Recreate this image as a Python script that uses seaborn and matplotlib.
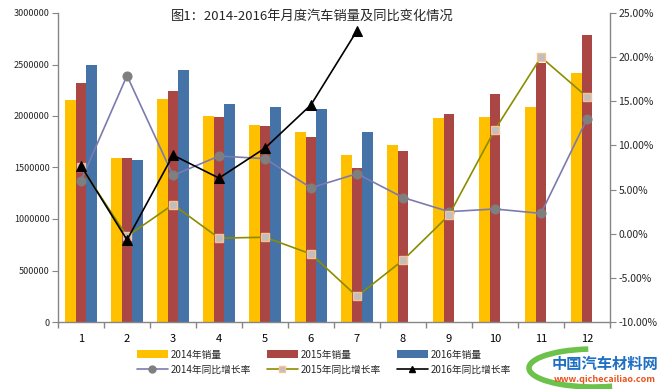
import matplotlib
matplotlib.use("Agg")
import numpy as np
import pandas as pd
import matplotlib.pyplot as plt
import seaborn as sns
from matplotlib.patches import Patch, Arc
from matplotlib.lines import Line2D
from matplotlib.ticker import FuncFormatter

# ---- data ----
months = ["1", "2", "3", "4", "5", "6", "7", "8", "9", "10", "11", "12"]
sales_2014 = [2160000, 1593000, 2169000, 2003000, 1915000, 1847000,
              1622000, 1720000, 1984000, 1993000, 2091000, 2414000]
sales_2015 = [2316000, 1593000, 2238000, 1993000, 1906000, 1798000,
              1495000, 1661000, 2023000, 2218000, 2511000, 2785000]
sales_2016 = [2500000, 1573000, 2443000, 2121000, 2091000, 2072000, 1847000]
growth_2014 = [6.0, 17.9, 6.6, 8.8, 8.5, 5.2, 6.8, 4.1, 2.5, 2.8, 2.3, 13.0]
growth_2015 = [7.6, -0.3, 3.3, -0.5, -0.4, -2.3, -7.1, -3.0, 2.1, 11.8, 20.0, 15.5]
growth_2016 = [7.7, -0.7, 8.9, 6.3, 9.7, 14.6, 23.0]

bar_names = ["2014年销量", "2015年销量", "2016年销量"]
line_names = ["2014年同比增长率", "2015年同比增长率", "2016年同比增长率"]
bar_colors = ["#FFC000", "#AA4643", "#4572A7"]
title = "图1：2014-2016年月度汽车销量及同比变化情况"

# long table for seaborn
rows = []
for name, vals in zip(bar_names, [sales_2014, sales_2015, sales_2016]):
    for m, v in zip(months, vals):
        rows.append({"月": m, "销量": v, "系列": name})
df = pd.DataFrame(rows)

sns.set_style("ticks")
plt.rcParams["font.family"] = ["Noto Sans CJK SC", "DejaVu Sans"]
plt.rcParams["axes.unicode_minus"] = False

fig = plt.figure(figsize=(6.69, 3.89), dpi=100)
ax = fig.add_axes([58 / 669, 1 - 322 / 389, (610 - 58) / 669, (322 - 13) / 389])

sns.barplot(data=df, x="月", y="销量", hue="系列", order=months, hue_order=bar_names,
            palette=bar_colors, width=0.68, saturation=1, legend=False, ax=ax,
            linewidth=0, edgecolor="none")

ax2 = ax.twinx()
x14 = np.arange(len(growth_2014))
x15 = np.arange(len(growth_2015))
x16 = np.arange(len(growth_2016))
sns.lineplot(x=x14, y=growth_2014, ax=ax2, color="#7B7BB0", linewidth=1.2,
             marker="o", markersize=6.5, markerfacecolor="#7F7F7F", markeredgecolor="#7F7F7F")
sns.lineplot(x=x15, y=growth_2015, ax=ax2, color="#8C8C00", linewidth=1.2,
             marker="s", markersize=5.5, markerfacecolor="#BFBFBF", markeredgecolor="#FAC090",
             markeredgewidth=1)
sns.lineplot(x=x16, y=growth_2016, ax=ax2, color="black", linewidth=1.2,
             marker="^", markersize=6.5, markerfacecolor="black", markeredgecolor="black")

# axes styling
gray = "#868686"
ax.set_xlim(-0.5, 11.5)
ax.set_ylim(0, 3000000)
ax.set_yticks(np.arange(0, 3000001, 500000))
ax.yaxis.set_major_formatter(FuncFormatter(lambda v, p: f"{int(v)}"))
ax.set_xticks(range(12))
ax.set_xticklabels(months)
ax.set_xticks(np.arange(-0.5, 12, 1), minor=True)
ax.set_xlabel("")
ax.set_ylabel("")
ax.tick_params(axis="x", which="major", length=0, pad=9, labelsize=8, labelcolor="black")
ax.tick_params(axis="x", which="minor", length=4, color=gray, width=1)
ax.tick_params(axis="y", length=4, color=gray, labelsize=6.5, pad=2)

ax2.set_ylim(-10, 25)
ax2.set_yticks(np.arange(-10, 26, 5))
ax2.yaxis.set_major_formatter(FuncFormatter(lambda v, p: f"{v:.2f}%"))
ax2.set_ylabel("")
ax2.tick_params(axis="y", length=4, color=gray, labelsize=7.5, pad=2)

for a in (ax, ax2):
    a.spines["top"].set_visible(False)
    for s in a.spines.values():
        s.set_color(gray)
        s.set_linewidth(1)
ax.spines["right"].set_visible(False)
ax2.spines["left"].set_visible(False)
ax2.spines["bottom"].set_visible(False)

fig.text(312 / 669, 1 - 16 / 389, title, ha="center", va="center", fontsize=9.5)

# legend: bars on first row, lines on second
handles = []
for i in range(3):
    handles.append(Patch(facecolor=bar_colors[i], edgecolor="none"))
handles_lines = [
    Line2D([], [], color="#7B7BB0", lw=1.2, marker="o", markersize=5,
           markerfacecolor="#7F7F7F", markeredgecolor="#7F7F7F"),
    Line2D([], [], color="#8C8C00", lw=1.2, marker="s", markersize=4.5,
           markerfacecolor="#BFBFBF", markeredgecolor="#FAC090"),
    Line2D([], [], color="black", lw=1.2, marker="^", markersize=5,
           markerfacecolor="black"),
]
leg_h, leg_l = [], []
for i in range(3):
    leg_h += [handles[i], handles_lines[i]]
    leg_l += [bar_names[i], line_names[i]]
fig.legend(leg_h, leg_l, ncol=3, loc="upper left", bbox_to_anchor=(128 / 669, 1 - 341 / 389),
           frameon=False, fontsize=7, handlelength=3.2, handleheight=0.9,
           columnspacing=1.6, handletextpad=0.3, labelspacing=0.55)

# watermark
fig.patches.append(Arc((594 / 669, 1 - 368 / 389), 130 / 669, 38 / 389, theta1=100, theta2=300,
                       transform=fig.transFigure, color="#6CC24A", lw=4))
fig.text(605 / 669, 1 - 364 / 389, "中国汽车材料网", ha="center", va="center",
         fontsize=11, color="#1F6FC5", fontweight="bold")
fig.text(605 / 669, 1 - 380 / 389, "www.qichecailiao.com", ha="center", va="center",
         fontsize=6.5, color="#E8531E", fontweight="bold", style="italic")

fig.savefig("out.png", dpi=100)
